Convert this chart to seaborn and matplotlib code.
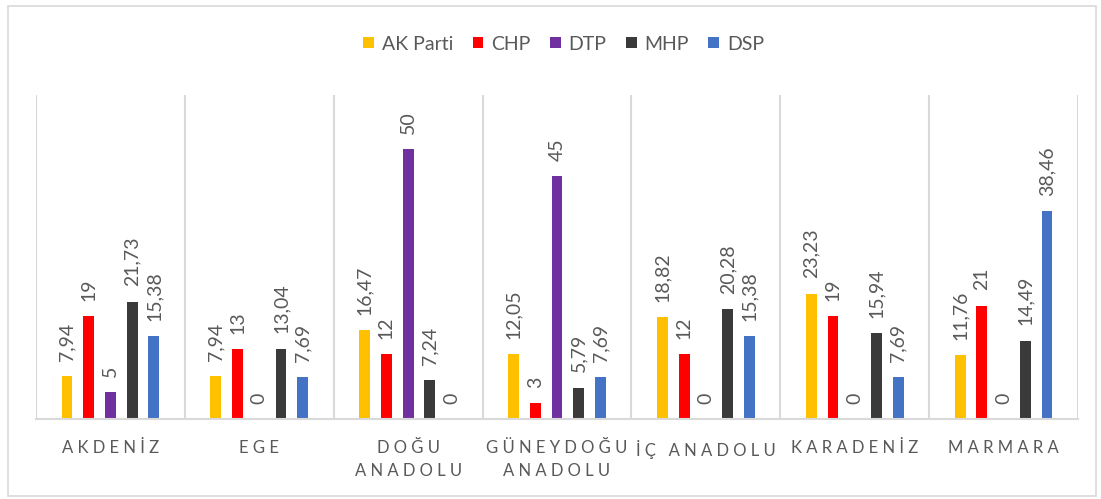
import matplotlib
matplotlib.use("Agg")
import matplotlib.pyplot as plt
from matplotlib.patches import Rectangle
import seaborn as sns
import pandas as pd
import numpy as np

categories = ["A K D E N İ Z", "E G E", "D O Ğ U\nA N A D O L U",
              "G Ü N E Y D O Ğ U\nA N A D O L U", "İ Ç   A N A D O L U",
              "K A R A D E N İ Z", "M A R M A R A"]
parties = ["AK Parti", "CHP", "DTP", "MHP", "DSP"]
ak_parti = [7.94, 7.94, 16.47, 12.05, 18.82, 23.23, 11.76]
chp = [19, 13, 12, 3, 12, 19, 21]
dtp = [5, 0, 50, 45, 0, 0, 0]
mhp = [21.73, 13.04, 7.24, 5.79, 20.28, 15.94, 14.49]
dsp = [15.38, 7.69, 0, 7.69, 15.38, 7.69, 38.46]
colors = ["#FFC000", "#FF0000", "#7030A0", "#3A3A3A", "#4472C4"]

series = [ak_parti, chp, dtp, mhp, dsp]
rows = []
for p, vals in zip(parties, series):
    for c, v in zip(categories, vals):
        rows.append({"Bölge": c, "Parti": p, "Oran": v})
df = pd.DataFrame(rows)

sns.set_theme(style="white")
plt.rcParams["font.family"] = ["Lato", "DejaVu Sans"]
TXT = "#595959"

fig = plt.figure(figsize=(11.01, 4.99), dpi=100)
ax = fig.add_axes([36 / 1101, 1 - 419 / 499, (1078 - 36) / 1101, (419 - 95) / 499])

sns.barplot(data=df, x="Bölge", y="Oran", hue="Parti", order=categories,
            hue_order=parties, palette=colors, width=0.73, gap=0.5,
            saturation=1, ax=ax, legend=True, linewidth=0)

for cont in ax.containers:
    labels = [f"{v:g}".replace(".", ",") for v in cont.datavalues]
    ax.bar_label(cont, labels=labels, rotation=90, padding=11,
                 fontsize=14, color=TXT)

ax.set_ylim(0, 60)
ax.set_xlim(-0.5, len(categories) - 0.5)
ax.set_yticks([])
ax.set_xlabel("")
ax.set_ylabel("")
for s in ["top", "right", "left"]:
    ax.spines[s].set_visible(False)
ax.spines["bottom"].set_color("#D9D9D9")
ax.spines["bottom"].set_linewidth(1.5)

ax.set_xticks(np.arange(-0.5, len(categories) + 0.5, 1), minor=True)
ax.grid(which="minor", axis="x", color="#D9D9D9", linewidth=1.5)
ax.grid(which="major", axis="both", visible=False)
ax.tick_params(axis="x", which="both", length=0)
ax.tick_params(axis="x", which="major", pad=15, labelsize=12, labelcolor=TXT)
for t in ax.get_xticklabels():
    t.set_linespacing(1.55)
    t.set_verticalalignment("top")

handles, labels = ax.get_legend_handles_labels()
ax.get_legend().remove()
fig.legend(handles, labels, loc="center", bbox_to_anchor=(0.512, 1 - 44 / 499),
           ncol=5, frameon=False, fontsize=14, handlelength=0.55,
           handleheight=0.55, handletextpad=0.4, columnspacing=1.0,
           labelcolor=TXT)

fig.patches.append(Rectangle((8 / 1101, 3 / 499), (1096 - 8) / 1101, (493 - 3) / 499,
                             transform=fig.transFigure, fill=False,
                             edgecolor="#D9D9D9", linewidth=1.2))

fig.savefig("out.png", dpi=100, facecolor="white")
